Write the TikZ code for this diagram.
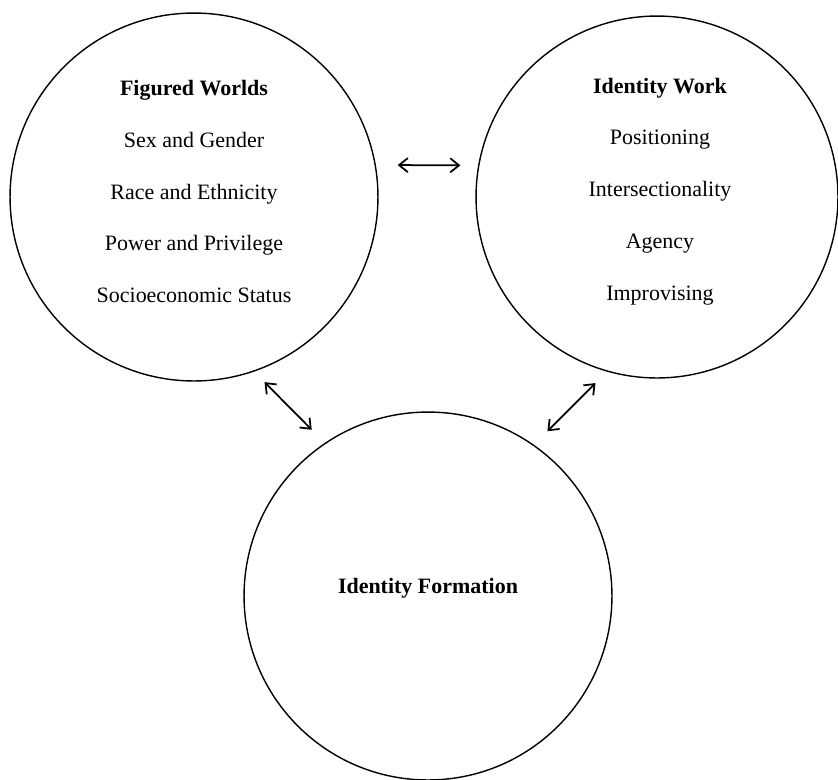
\documentclass[tikz,border=0pt]{standalone}
\usepackage{fontspec}
\setmainfont{Liberation Serif}
\usetikzlibrary{arrows.meta}

\tikzset{
  ring/.style={draw, circle, line width=0.8pt, minimum size=#1, inner sep=0pt},
  lbl/.style={align=center, font=\fontsize{12.5}{29.5}\selectfont},
  link/.style={<->, >={Straight Barb[length=5pt,width=8pt]}, line width=1pt}
}

\begin{document}
\begin{tikzpicture}[x=0.02cm, y=-0.02cm]
\useasboundingbox (0,0) rectangle (838,779);

\node[ring=7.36cm] (fw) at (194,197) {};

\node[ring=7.24cm] (iw) at (657,197) {};

\node[ring=7.36cm] (fo) at (428,596) {};

\node[lbl] (fwtext) at (194,191.5)
{\textbf{Figured Worlds}\\Sex and Gender\\Race and Ethnicity\\Power and Privilege\\Socioeconomic Status};

\node[lbl] (iwtext) at (660,191.5)
{\textbf{Identity Work}\\Positioning\\Intersectionality\\Agency\\Improvising};

\node[lbl] (fotext) at (428,588) {\textbf{Identity Formation}};

\draw[link, shorten <=0.436cm, shorten >=0.354cm] (fw.10) -- (iw.170);

\draw[link, shorten <=0.296cm, shorten >=0.37cm] (fw.-71.4) -- (fo.124.4);

\draw[link, shorten <=0.382cm, shorten >=0.324cm] (fo.55.4) -- (iw.-106.6);
\end{tikzpicture}
\end{document}
